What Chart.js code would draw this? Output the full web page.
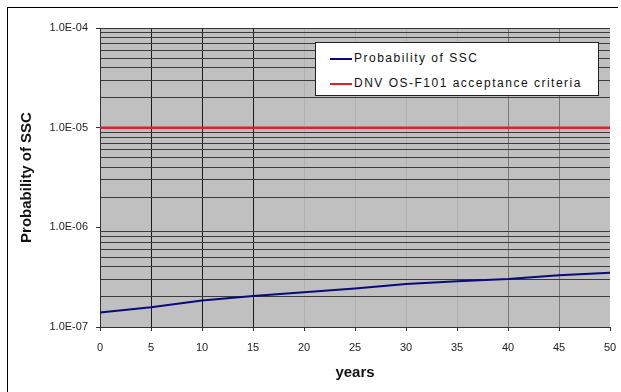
<!DOCTYPE html>
<html>
<head>
<meta charset="utf-8">
<title>Probability of SSC</title>
<script src="https://cdn.jsdelivr.net/npm/chart.js@4"></script>
<style>
    body { margin: 0; background: #fff; }
    #wrap { position: relative; width: 621px; height: 392px; overflow: hidden; }
    #frame { position: absolute; left: 7px; top: 7px; width: 610px; height: 400px;
             border-top: 1px solid #000; border-left: 1px solid #000; pointer-events: none; }
    canvas { position: absolute; left: 0; top: 0; }
    #legend { position: absolute; left: 315px; top: 42px; width: 284px; height: 54px;
              background: #fff; border: 1px solid #222; box-sizing: border-box;
              font: 12px Arial, "Liberation Sans", sans-serif; color: #111; }
    .item { position: absolute; left: 14px; height: 14px; line-height: 14px; letter-spacing: 1.5px; white-space: nowrap; }
    .swatch { display: inline-block; width: 22px; height: 2px; vertical-align: middle; margin-right: 2px; }
</style>
</head>
<body>
<div id="wrap">
    <canvas id="sscChart" width="621" height="392"></canvas>
    <div id="legend"></div>
    <div id="frame"></div>
</div>
<script>
const years = [0, 5, 10, 15, 20, 25, 30, 35, 40, 45, 50];
const probabilitySSC = [1.40e-7, 1.58e-7, 1.84e-7, 2.05e-7, 2.23e-7, 2.44e-7, 2.70e-7, 2.87e-7, 3.03e-7, 3.30e-7, 3.51e-7];
const acceptanceCriteria = [1e-5, 1e-5];
const criteriaYears = [0, 50];

const yDecades = [1e-7, 1e-6, 1e-5, 1e-4];
const yTickLabels = ['1.0E-07', '1.0E-06', '1.0E-05', '1.0E-04'];

const seriesNames = ['Probability of SSC', 'DNV OS-F101 acceptance criteria'];
const seriesColors = ['#0a0a78', '#e0202c'];

function decadeIndex(v) {
    return yDecades.findIndex(d => Math.abs(v / d - 1) < 1e-6);
}

// minor gridline values 1..9 x each decade, plus the top decade
function logTickValues() {
    const vals = [];
    for (let i = 0; i < yDecades.length - 1; i++) {
        for (let m = 1; m <= 9; m++) vals.push(m * yDecades[i]);
    }
    vals.push(yDecades[yDecades.length - 1]);
    return vals;
}

const plotBackground = {
    id: 'plotBackground',
    beforeDraw(chart) {
        const { ctx, chartArea } = chart;
        ctx.save();
        ctx.fillStyle = '#c0c0c0';
        ctx.fillRect(chartArea.left, chartArea.top, chartArea.right - chartArea.left, chartArea.bottom - chartArea.top);
        ctx.restore();
    }
};

function renderChart() {
    const ctx = document.getElementById('sscChart').getContext('2d');

    new Chart(ctx, {
        type: 'line',
        data: {
            datasets: [{
                label: seriesNames[0],
                data: years.map((x, i) => ({ x: x, y: probabilitySSC[i] })),
                borderColor: seriesColors[0],
                borderWidth: 2,
                pointRadius: 0,
                tension: 0
            }, {
                label: seriesNames[1],
                data: criteriaYears.map((x, i) => ({ x: x, y: acceptanceCriteria[i] })),
                borderColor: seriesColors[1],
                borderWidth: 2.5,
                pointRadius: 0
            }]
        },
        options: {
            responsive: false,
            animation: false,
            layout: { padding: { top: 28, right: 11, left: 0, bottom: 0 } },
            plugins: {
                legend: { display: false },
                tooltip: { enabled: false }
            },
            scales: {
                x: {
                    type: 'linear',
                    min: 0,
                    max: 50,
                    ticks: {
                        stepSize: 5,
                        padding: 10,
                        color: '#222',
                        font: { family: 'Arial', size: 11 }
                    },
                    grid: {
                        color: c => {
                            const v = c.tick ? c.tick.value : 0;
                            if (v === 0 || v === 50) return 'rgba(0,0,0,0)';
                            if (v <= 15) return '#1a1a1a';
                            if (v >= 40) return '#7a7a7a';
                            return 'rgba(0,0,0,0.08)';
                        },
                        tickLength: 4,
                        tickColor: '#333'
                    },
                    border: { color: '#333' },
                    title: {
                        display: true,
                        text: 'years',
                        color: '#111',
                        font: { family: 'Arial', size: 15, weight: 'bold' },
                        padding: { top: 0, bottom: 10 }
                    },
                    afterFit: scale => {
                        scale.height = 65;
                        scale.paddingLeft = 0;
                        scale.paddingRight = 0;
                    }
                },
                y: {
                    type: 'logarithmic',
                    min: yDecades[0],
                    max: yDecades[yDecades.length - 1],
                    afterBuildTicks: scale => {
                        scale.ticks = logTickValues().map(v => ({ value: v }));
                    },
                    ticks: {
                        autoSkip: false,
                        padding: 8,
                        color: '#222',
                        font: { family: 'Arial', size: 11 },
                        callback: v => {
                            const i = decadeIndex(v);
                            return i >= 0 ? yTickLabels[i] : '';
                        }
                    },
                    grid: {
                        color: c => {
                            const v = c.tick ? c.tick.value : 0;
                            const i = decadeIndex(v);
                            if (i === yDecades.length - 1) return '#333';
                            if (i >= 0) return 'rgba(0,0,0,0)';
                            return '#3a3a3a';
                        },
                        tickLength: 4,
                        tickColor: c => decadeIndex(c.tick ? c.tick.value : 0) >= 0 ? '#333' : 'rgba(0,0,0,0)'
                    },
                    border: { color: '#333' },
                    title: {
                        display: true,
                        text: 'Probability of SSC',
                        color: '#111',
                        font: { family: 'Arial', size: 15, weight: 'bold' },
                        padding: { top: 18, bottom: 0 }
                    },
                    afterFit: scale => {
                        scale.width = 100;
                        scale.paddingTop = 0;
                        scale.paddingBottom = 0;
                    }
                }
            }
        },
        plugins: [plotBackground]
    });
}

function renderLegend() {
    const box = document.getElementById('legend');
    seriesNames.forEach((name, i) => {
        const item = document.createElement('div');
        item.className = 'item';
        item.style.top = (8 + i * 25) + 'px';
        item.innerHTML = '<span class="swatch" style="background:' + seriesColors[i] + '"></span>' + name;
        box.appendChild(item);
    });
}

renderChart();
renderLegend();
</script>
</body>
</html>
